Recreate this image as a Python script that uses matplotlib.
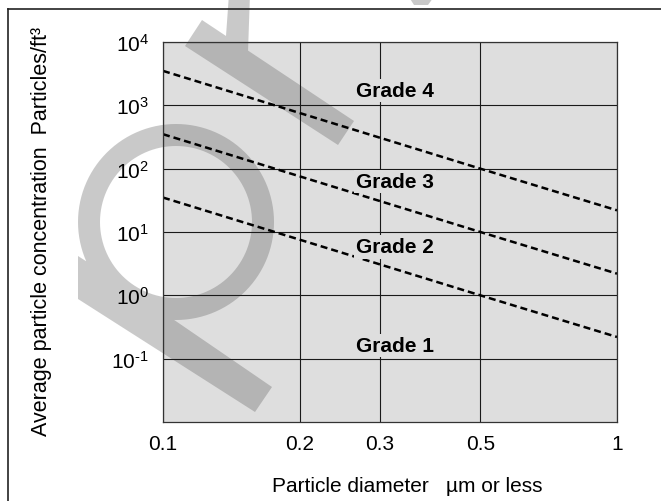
import numpy as np
import matplotlib
matplotlib.use("Agg")
import matplotlib.pyplot as plt
from matplotlib.path import Path
from matplotlib.patches import PathPatch
from matplotlib.lines import Line2D
from matplotlib.ticker import FixedLocator, FixedFormatter, NullLocator

plt.rcParams['font.family'] = ['Liberation Sans', 'DejaVu Sans']
plt.rcParams['mathtext.fontset'] = 'custom'
plt.rcParams['mathtext.rm'] = 'Liberation Sans'

# --- data ---
diametro = [0.1, 0.5, 1.0]
grade4 = [3500, 100, 22]
grade3 = [350, 10, 2.2]
grade2 = [35, 1.0, 0.22]

nomes_grade = ['Grade 4', 'Grade 3', 'Grade 2', 'Grade 1']
grade_x = 0.266
grade_y = [1700, 62, 5.8, 0.16]

xticks = [0.1, 0.2, 0.3, 0.5, 1.0]
xtick_labels = ['0.1', '0.2', '0.3', '0.5', '1']
yticks = [1e-1, 1e0, 1e1, 1e2, 1e3, 1e4]
ytick_labels = ['$\\mathregular{10^{\u2010 1}}$', r'$\mathregular{10^{0}}$', r'$\mathregular{10^{1}}$',
                r'$\mathregular{10^{2}}$', r'$\mathregular{10^{3}}$', r'$\mathregular{10^{4}}$']

BG = '#dedede'
W, H = 661, 502

fig = plt.figure(figsize=(W / 100, H / 100), dpi=100)
ax = fig.add_axes([163 / W, 1 - 423 / H, 454 / W, 380 / H])
ax.set_facecolor(BG)
ax.set_xscale('log')
ax.set_yscale('log')
ax.set_xlim(0.1, 1.0)
ax.set_ylim(1e-2, 1e4)

ax.xaxis.set_major_locator(FixedLocator(xticks))
ax.xaxis.set_major_formatter(FixedFormatter(xtick_labels))
ax.xaxis.set_minor_locator(NullLocator())
ax.yaxis.set_major_locator(FixedLocator(yticks))
ax.yaxis.set_major_formatter(FixedFormatter(ytick_labels))
ax.yaxis.set_minor_locator(NullLocator())
ax.tick_params(axis='both', length=0, labelsize=15)
ax.tick_params(axis='x', pad=9)
ax.tick_params(axis='y', pad=10)
ax.grid(True, color='#1a1a1a', lw=0.8)
for s in ax.spines.values():
    s.set_color('#333333')
    s.set_linewidth(0.9)

for serie in (grade4, grade3, grade2):
    ax.plot(diametro, serie, color='black', lw=1.8, ls=(0, (2.8, 1.6)), zorder=2)

for nome, gy in zip(nomes_grade, grade_y):
    ax.text(grade_x, gy, nome, fontsize=15, fontweight='bold', ha='left', va='center',
            zorder=3, bbox=dict(facecolor=BG, edgecolor='none', pad=1.5))

fig.text(42 / W, 1 - 232 / H, 'Average particle concentration  Particles/ft\u00b3',
         rotation=90, ha='center', va='center', fontsize=15.5)
fig.text(407 / W, 1 - 487 / H, 'Particle diameter   \u00b5m or less',
         ha='center', va='center', fontsize=15)

# moldura externa (so topo e esquerda aparecem)
fig.add_artist(Line2D([8 / W, 1.0], [1 - 10 / H, 1 - 10 / H], color='#222222', lw=1.2))
fig.add_artist(Line2D([8 / W, 8 / W], [0.0, 1 - 10 / H], color='#222222', lw=1.2))


# marca d'agua cinza
def px(pts):
    pts = np.asarray(pts, dtype=float)
    return np.column_stack([pts[:, 0] / W, 1 - pts[:, 1] / H])


def orientar(pts, ccw=True):
    x, y = pts[:, 0], pts[:, 1]
    area = 0.5 * np.sum(x * np.roll(y, -1) - np.roll(x, -1) * y)
    if (area > 0) != ccw:
        pts = pts[::-1]
    return pts


ang = np.linspace(0, 2 * np.pi, 120, endpoint=False)
cx, cy = 176, 223
anel_ext = px(np.column_stack([cx + 98 * np.cos(ang), cy + 98 * np.sin(ang)]))
anel_int = px(np.column_stack([cx + 76 * np.cos(ang), cy + 76 * np.sin(ang)]))
formas = [
    (anel_ext, True),
    (anel_int, False),
    (px([(78, 257), (78, 300), (255, 413), (272, 388), (183, 327), (120, 284)]), True),
    (px([(185, 47), (202, 21), (354, 122), (338, 146)]), True),
    (px([(226, 37), (229, -5), (250, -5), (248, 53)]), True),
    (px([(407, -5), (436, -5), (428, 6), (414, 6)]), True),
]
verts, codes = [], []
for pts, ccw in formas:
    pts = orientar(pts, ccw)
    verts.extend(pts.tolist() + [pts[0].tolist()])
    codes.extend([Path.MOVETO] + [Path.LINETO] * (len(pts) - 1) + [Path.CLOSEPOLY])
marca = PathPatch(Path(verts, codes), facecolor='#666666', edgecolor='none', alpha=0.35,
                  transform=fig.transFigure, clip_on=False, zorder=1)
ax.add_artist(marca)

fig.savefig('out.png', dpi=100)
